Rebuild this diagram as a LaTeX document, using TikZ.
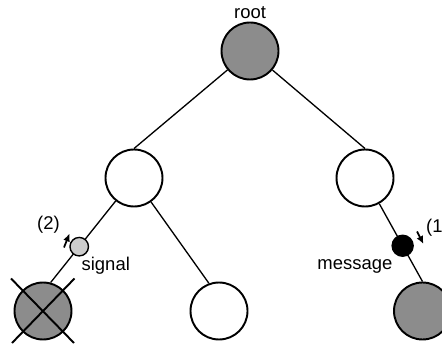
\documentclass[tikz,border=0pt]{standalone}
\usepackage{fontspec}
\setmainfont{Liberation Sans}
\usetikzlibrary{positioning,arrows.meta}

\tikzset{
  vertex/.style={circle, draw, line width=1.1pt, minimum size=1.14cm, inner sep=0pt},
  greynode/.style={vertex, fill=black!45},
  whitenode/.style={vertex, fill=white},
  token/.style={circle, draw, line width=0.8pt, inner sep=0pt},
  lbl/.style={inner sep=0pt, font=\fontsize{10.5}{12}\selectfont},
}

\begin{document}
\begin{tikzpicture}[>={Latex[length=4.5pt,width=4pt]}, line width=0.75pt]

  \useasboundingbox (0,0) rectangle (8.84,6.96);
  \clip (0,0) rectangle (8.84,6.96);

  % the tree
  \node[greynode] (root) at (5.00,5.94) {};
  \node[whitenode] (a) at (2.68,3.40) {};
  \node[whitenode] (b) at (7.30,3.40) {};
  \node[greynode] (aa) at (0.86,0.74) {};
  \node[whitenode] (ab) at (4.38,0.74) {};
  \node[greynode] (bb) at (8.45,0.74) {};

  \draw (root) -- (a.north);
  \draw (root) -- (b.north);
  \draw (a) -- (ab.110);
  \draw (a) -- node[token, pos=0.56, fill=black!20, minimum size=0.37cm] (sig) {} (aa.75);
  \draw (b) -- node[token, pos=0.54, fill=black, minimum size=0.42cm] (msg) {} (bb.north);

  % dead node
  \draw[line width=1.1pt] (aa.center) +(-0.64,0.65) -- +(0.62,-0.64)
                          (aa.center) +(0.63,0.65) -- +(-0.62,-0.64);

  % labels
  \node[lbl, above=1pt of root] (rootname) {root};
  \node[lbl, anchor=base west] (signame) at (1.62,1.55) {signal};
  \node[lbl, anchor=base east] (msgname) at (7.86,1.57) {message};
  \node[lbl, anchor=base] (sigstep) at (0.97,2.37) {(2)};
  \node[lbl, anchor=base west] (msgstep) at (8.51,2.30) {(1)};

  % directions
  \coordinate (sigfrom) at (1.28,2.01);
  \coordinate (sigto) at (1.39,2.29);
  \coordinate (msgfrom) at (8.34,2.33);
  \coordinate (msgto) at (8.47,2.08);
  \draw[->, line width=1pt] (sigfrom) -- (sigto);
  \draw[->, line width=1pt] (msgfrom) -- (msgto);

\end{tikzpicture}
\end{document}
